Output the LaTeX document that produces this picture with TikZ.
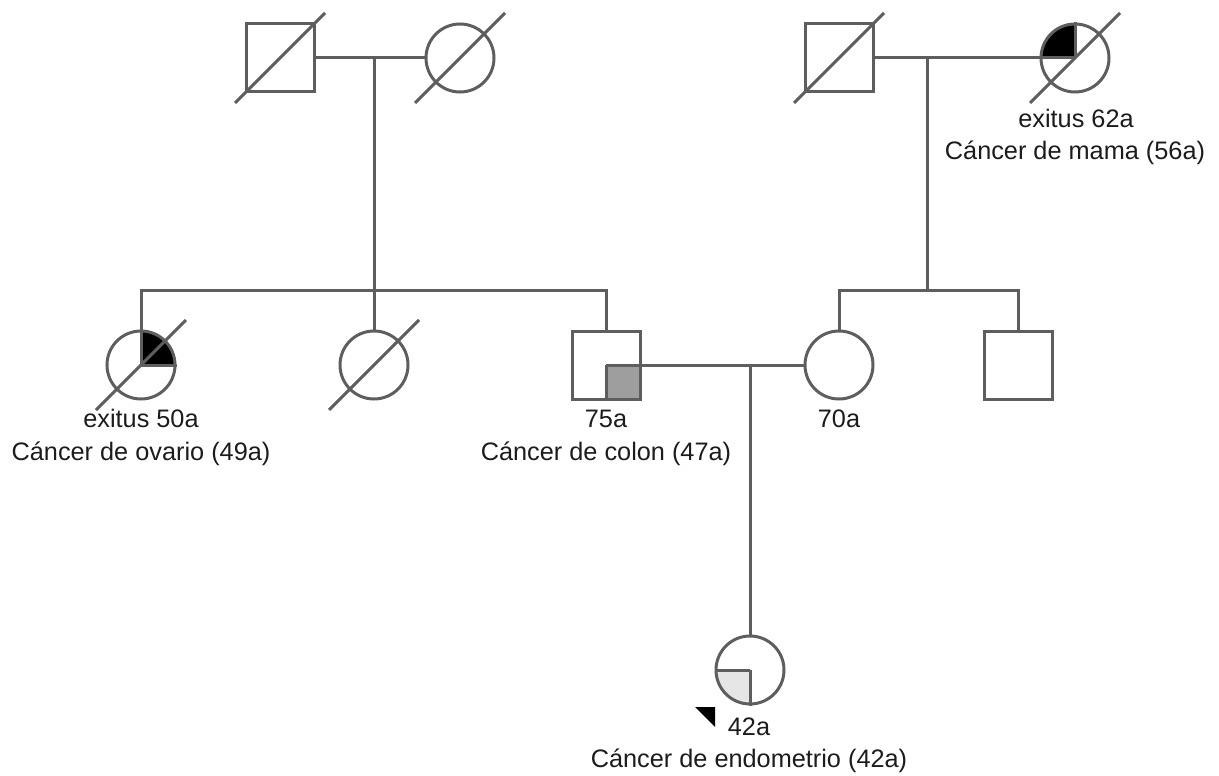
\documentclass[tikz,border=0pt]{standalone}
\usepackage{fontspec}
\setmainfont{Liberation Sans}
\definecolor{lc}{HTML}{5E5E5E}
\definecolor{tc}{HTML}{1C1C1C}
\definecolor{midgrey}{HTML}{9E9E9E}
\definecolor{lightgrey}{HTML}{E6E6E6}
\begin{document}
\begin{tikzpicture}[x=1pt,y=-1pt,
  conn/.style={draw=lc,line width=3pt},
  male/.style={conn,rectangle,minimum size=68pt,inner sep=0pt},
  female/.style={conn,circle,minimum size=68pt,inner sep=0pt},
  lbl/.style={font=\fontsize{25.3}{32}\selectfont,text=tc,inner sep=0pt,anchor=base}]
\useasboundingbox (0,0) rectangle (1219,776);
% quarter fills
\begin{scope}
  \clip (1075,58) rectangle (1030,10);
  \fill[black] (1075,58) circle[radius=34];
\end{scope}
\begin{scope}
  \clip (141,365) rectangle (190,320);
  \fill[black] (141,365) circle[radius=34];
\end{scope}
\begin{scope}
  \clip (750,670) rectangle (700,720);
  \fill[lightgrey] (750,670) circle[radius=34];
\end{scope}
\fill[midgrey] (606,365) rectangle (640,399);
% individuals
\node[male] (gf1) at (280,58) {};
\node[female] (gm1) at (460,58) {};
\node[male] (gf2) at (839,58) {};
\node[female] (gm2) at (1075,58) {};
\node[female] (aunt1) at (141,365) {};
\node[female] (aunt2) at (374,365) {};
\node[male] (father) at (606,365) {};
\node[female] (mother) at (839,365) {};
\node[male] (uncle) at (1018,365) {};
\node[female] (prob) at (750,670) {};
% quadrant borders
\draw[conn] (gm2.center) -- (gm2.north);
\draw[conn] (gm2.center) -- (gm2.west);
\draw[conn] (aunt1.center) -- (aunt1.north);
\draw[conn] (aunt1.center) -- (aunt1.east);
\draw[conn] (prob.center) -- (prob.west);
\draw[conn] (prob.center) -- (prob.south);
\draw[conn] (father.center) -- (father.south);
\draw[conn] (father.center) -- (father.east);
% deceased slashes
\foreach \n in {gf1,gm1,gf2,gm2,aunt1,aunt2}
  \draw[conn] (\n.center) ++(-45,45) -- ++(90,-90);
% couples and descent
\coordinate (c1) at (374,58);
\coordinate (c2) at (927,58);
\coordinate (s2) at (927,292);
\coordinate (c3) at (750,365);
\draw[conn] (gf1.east) -- (gm1.west);
\draw[conn] (gf2.east) -- (gm2.west);
\draw[conn] (aunt2.north) -- (c1);
\draw[conn] (aunt1.north) -- ++(0,-39) -| (father.north);
\draw[conn] (c2) -- (s2);
\draw[conn] (mother.north) -- ++(0,-39) -| (uncle.north);
\draw[conn] (father.east) -- (mother.west);
\draw[conn] (c3) -- (prob.north);
% proband arrow
\fill[black] (695,707) -- (715,707) -- (715,727) -- cycle;
% labels
\node[lbl] (t1) at (1076,127) {exitus 62a};
\node[lbl] (t2) at (1075,159) {Cáncer de mama (56a)};
\node[lbl] (t3) at (141,427) {exitus 50a};
\node[lbl] (t4) at (141,460) {Cáncer de ovario (49a)};
\node[lbl] (t5) at (606,427) {75a};
\node[lbl] (t6) at (606,460) {Cáncer de colon (47a)};
\node[lbl] (t7) at (839,427) {70a};
\node[lbl] (t8) at (749,735) {42a};
\node[lbl] (t9) at (749,767) {Cáncer de endometrio (42a)};
\end{tikzpicture}
\end{document}
